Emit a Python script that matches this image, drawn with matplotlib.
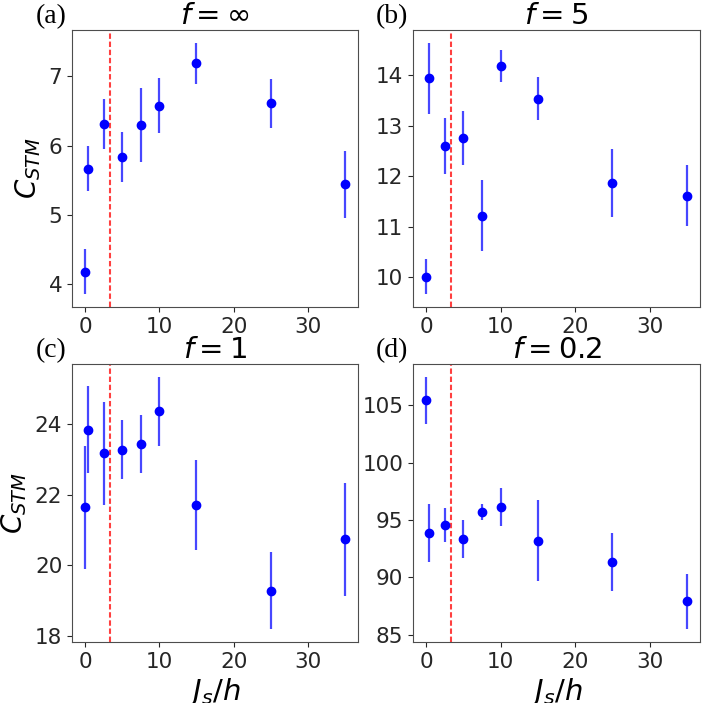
import numpy as np
import matplotlib
matplotlib.use("Agg")
import matplotlib.pyplot as plt

# ---------------- Data ----------------
js_h = [0, 0.35, 2.5, 5, 7.5, 10, 15, 25, 35]
js_crit = 3.3

titles = [r"$f=\infty$", r"$f=5$", r"$f=1$", r"$f=0.2$"]
panel_tags = ["(a)", "(b)", "(c)", "(d)"]

c_inf = [4.18, 5.67, 6.31, 5.84, 6.30, 6.58, 7.19, 6.61, 5.44]
e_inf = [0.33, 0.33, 0.36, 0.36, 0.53, 0.40, 0.30, 0.36, 0.48]

c_5 = [10.01, 13.93, 12.59, 12.75, 11.22, 14.18, 13.53, 11.86, 11.61]
e_5 = [0.35, 0.71, 0.55, 0.53, 0.70, 0.32, 0.43, 0.67, 0.60]

c_1 = [21.64, 23.85, 23.17, 23.28, 23.44, 24.37, 21.71, 19.28, 20.74]
e_1 = [1.74, 1.23, 1.45, 0.84, 0.83, 0.98, 1.27, 1.10, 1.60]

c_02 = [105.45, 93.88, 94.59, 93.31, 95.66, 96.16, 93.20, 91.37, 87.90]
e_02 = [2.05, 2.52, 1.47, 1.65, 0.70, 1.66, 3.52, 2.53, 2.43]

values = [c_inf, c_5, c_1, c_02]
errors = [e_inf, e_5, e_1, e_02]

# ---------------- Figure ----------------
fig = plt.figure(figsize=(7.03, 7.03), dpi=100)

# axes boxes in pixels (left, top, right, bottom), converted to fractions below
W, H = 703.0, 703.0
boxes = [
    (72, 30, 358, 307),
    (413, 30, 700, 307),
    (72, 364, 358, 642),
    (413, 364, 700, 642),
]
tag_xy = [(51, 17), (392, 17), (51, 351), (392, 351)]

for i in range(4):
    x0, y0, x1, y1 = boxes[i]
    ax = fig.add_axes([x0 / W, 1 - y1 / H, (x1 - x0) / W, (y1 - y0) / H])

    ax.errorbar(js_h, values[i], yerr=errors[i], fmt='o', color='blue',
                ecolor=(0, 0, 1, 0.72), elinewidth=1.6, markersize=6,
                capsize=0)
    ax.axvline(js_crit, color='red', alpha=0.75, lw=1.5,
               linestyle=(0, (2.6, 1.3)))

    ax.set_title(titles[i], fontsize=21, pad=3)
    ax.tick_params(labelsize=15.5, colors='0.15', length=3.5)
    for sp in ax.spines.values():
        sp.set_color('0.3')
    ax.set_xticks([0, 10, 20, 30])

    if i in (0, 2):
        ax.set_ylabel(r"$C_{STM}$", fontsize=20)
    if i in (2, 3):
        ax.set_xlabel(r"$J_s/h$", fontsize=21, labelpad=3)

    tx, ty = tag_xy[i]
    fig.text(tx / W, 1 - ty / H, panel_tags[i], family='Liberation Serif',
             fontsize=20, ha='center', va='center')

fig.savefig("out.png", dpi=100)
